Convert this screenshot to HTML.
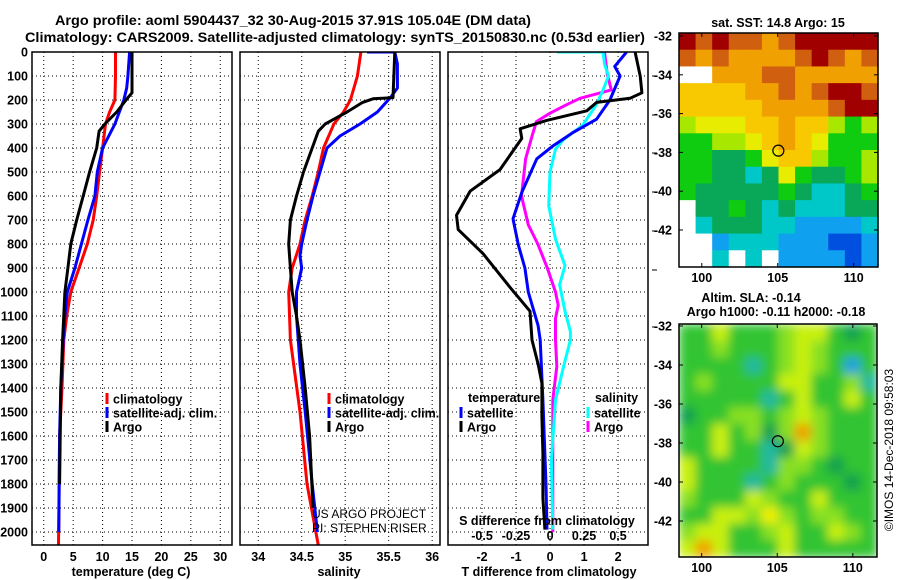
<!DOCTYPE html>
<html><head><meta charset="utf-8"><style>
html,body{margin:0;padding:0;background:#fff;}
svg{display:block;font-family:"Liberation Sans",sans-serif;}
.b{font-weight:bold;}
</style></head><body>
<svg id="chart" width="900" height="580" viewBox="0 0 900 580" xmlns="http://www.w3.org/2000/svg">
<defs>
<filter id="smooth" x="0" y="0" width="1" height="1"><feGaussianBlur stdDeviation="5" edgeMode="duplicate"/></filter>
<clipPath id="slaclip"><rect x="679" y="324" width="198" height="233"/></clipPath>
</defs>
<text x="55" y="25" class="b" font-size="13.5" textLength="476" lengthAdjust="spacingAndGlyphs">Argo profile: aoml 5904437_32 30-Aug-2015 37.91S 105.04E (DM data)</text>
<text x="25" y="42" class="b" font-size="13.5" textLength="620" lengthAdjust="spacingAndGlyphs">Climatology: CARS2009. Satellite-adjusted climatology: synTS_20150830.nc (0.53d earlier)</text>
<g id="layer"></g>
</svg>
<script>
// ---- depth axis ----
const depthTicks = [0,100,200,300,400,500,600,700,800,900,1000,1100,1200,1300,1400,1500,1600,1700,1800,1900,2000];
// ---- temperature panel ----
const tTicks = [0,5,10,15,20,25,30];
const tClimDepth = [0,100,200,250,300,400,500,600,700,800,900,1000,1100,1200,1400,1600,2055];
const tClim = [12.2,12.2,12.1,11.2,10.5,10.0,9.5,9.0,8.4,7.4,6.0,4.6,3.9,3.4,3.1,2.7,2.5];
const tSatDepth = [0,100,150,200,300,400,500,600,700,800,900,1000,1100,1200,1400,1600,2000];
const tSat = [14.6,14.3,14.1,13.6,12.1,10.0,9.1,8.7,7.5,6.4,5.3,4.0,3.6,3.3,2.9,2.7,2.55];
const tArgoDepth = [0,170,190,250,300,330,400,500,600,700,800,900,1000,1200,1400,1800];
const tArgo = [15,15,14.3,12.4,10.4,9.4,9.0,7.8,6.7,5.6,4.6,4.1,3.6,3.2,2.9,2.7];
// ---- salinity panel ----
const sTicks = [34,34.5,35,35.5,36];
const sTickLabels = ["34","34.5","35","35.5","36"];
const sClimDepth = [0,100,200,250,300,400,500,600,700,800,900,1000,1200,1500,1800,2055];
const sClim = [35.18,35.14,35.06,34.98,34.87,34.75,34.69,34.62,34.54,34.48,34.39,34.35,34.37,34.48,34.56,34.69];
const sSatDepth = [0,0,50,150,190,250,300,350,400,500,600,700,800,850,900,1000,1100,1300,1500,1800,2000];
const sSat = [35.25,35.57,35.6,35.6,35.52,35.37,35.17,34.94,34.79,34.71,34.63,34.56,34.5,34.48,34.5,34.44,34.44,34.48,34.54,34.62,34.68];
const sArgoDepth = [0,190,195,210,250,280,300,330,400,500,600,700,800,900,1000,1100,1200,1400,1600,1900];
const sArgo = [35.57,35.55,35.32,35.2,35.02,34.87,34.77,34.69,34.62,34.52,34.44,34.37,34.35,34.37,34.39,34.44,34.48,34.54,34.59,34.63];
// ---- difference panel ----
const dTTicks = [-2,-1,0,1,2];
const dSTicks = [-0.5,-0.25,0,0.25,0.5];
const dSTickLabels = ["-0.5","-0.25","0","0.25","0.5"];
const dTArgoDepth = [0,100,170,193,210,245,285,320,360,490,580,680,740,840,980,1080,1200,1300,1380,1520,1670,1860,1990];
const dTArgo = [2.5,2.65,2.7,2.35,1.37,1.08,-0.1,-0.88,-0.83,-1.47,-2.35,-2.75,-2.7,-1.97,-1.18,-0.59,-0.53,-0.35,-0.24,-0.24,-0.21,-0.21,-0.15];
const dTSatDepth = [0,60,100,200,280,335,390,445,585,695,805,900,1000,1140,1200,1450,1800,1990];
const dTSat = [2.25,1.9,2.06,1.76,1.37,0.68,0.1,-0.39,-0.83,-1.09,-0.93,-0.74,-0.64,-0.35,-0.29,-0.21,-0.12,-0.09];
const dSArgoDepth = [0,90,158,193,220,255,290,345,445,600,720,800,900,1000,1055,1110,1200,1310,1450,1800,2000];
const dSArgo = [0.40,0.42,0.45,0.22,0.12,0.0,-0.1,-0.13,-0.18,-0.21,-0.16,-0.09,-0.02,0.04,0.06,0.04,0.04,0.05,0.02,0.02,0.02];
const dSSatDepth = [0,0,50,100,158,220,305,365,405,500,640,780,890,970,1080,1165,1200,1310,1450,1700,1990];
const dSSat = [0.05,0.39,0.40,0.43,0.39,0.34,0.24,0.10,0.04,0.0,-0.01,0.04,0.11,0.07,0.11,0.15,0.15,0.10,0.04,0.01,0.02];
// ---- maps ----
const latTicks = [-32,-34,-36,-38,-40,-42];
const lonTicks = [100,105,110];
const argoLon = 105.04, argoLat = -37.91;
const sstColors = ["#ffffff","#a00000","#d06010","#f0a000","#f8c800","#e8ec00","#a8e800","#10cc10","#08a858","#00c8c8","#10a0f0","#0050e0","#0020a0"];
const sstGrid = [
[1,2,1,2,2,3,2,1,1,1,1,1],
[2,3,2,3,3,3,3,2,1,2,3,2],
[0,0,3,3,3,2,2,3,3,3,3,3],
[4,4,4,4,3,3,2,3,2,1,1,2],
[4,4,4,4,4,3,3,3,3,2,1,1],
[6,5,5,5,4,4,3,4,4,6,7,6],
[7,7,6,6,5,4,3,4,5,7,7,7],
[7,7,8,8,7,5,4,4,6,7,7,6],
[7,7,8,8,9,8,5,7,8,8,7,6],
[7,8,8,8,8,8,7,8,9,9,8,7],
[0,8,8,7,8,9,8,9,9,9,8,8],
[0,9,8,8,8,9,9,10,10,10,10,9],
[0,0,10,9,9,9,10,10,10,11,11,10],
[0,0,9,0,9,0,10,10,10,10,11,10]];
const slaColors = ["#10a050","#30c430","#88e020","#c8f010","#f0f000","#f0a000","#20b8a0","#20a0e0"];
const slaGrid = [
[1,1,3,1,1,1,2,3,3,1,0,1],
[1,1,2,1,1,1,2,3,2,1,1,1],
[1,1,1,1,6,1,2,3,2,1,7,1],
[1,2,1,1,1,1,3,3,1,1,2,6],
[1,1,1,1,1,6,1,3,1,1,3,1],
[0,1,1,2,2,1,2,3,2,1,1,1],
[1,1,3,1,2,0,2,5,2,1,1,1],
[1,1,3,1,1,6,0,3,2,1,1,1],
[3,1,1,1,1,6,2,2,1,0,1,1],
[3,1,1,1,6,1,2,1,1,1,0,1],
[2,1,1,1,3,2,1,1,3,1,1,1],
[1,1,3,3,2,4,2,1,2,2,1,1],
[2,3,3,1,1,2,3,1,1,3,2,1],
[3,5,3,1,1,1,3,1,1,1,1,1]];

const NS="http://www.w3.org/2000/svg";
const layer=document.getElementById('layer');
function mk(tag,attrs,parent){const e=document.createElementNS(NS,tag);for(const k in attrs)e.setAttribute(k,attrs[k]);(parent||layer).appendChild(e);return e;}
function txt(s,x,y,size,anchor,bold,parent){const e=mk('text',{x:x,y:y,'font-size':size,'text-anchor':anchor||'start'},parent);if(bold)e.setAttribute('font-weight','bold');e.textContent=s;return e;}

const TOP=52,BOT=545;
function yD(d){return TOP+d*0.24;}
const panels=[
 {x0:32,x1:232,v0:-2,v1:32},
 {x0:240,x1:440,v0:33.79,v1:36.09},
 {x0:448,x1:648,v0:-3,v1:2.88}
];
function sx(p,v){return p.x0+(v-p.v0)/(p.v1-p.v0)*(p.x1-p.x0);}
function sxS(p,v){return sx(p,v*4);}

depthTicks.forEach(d=>{
  const t=txt(String(d),28,yD(d)+4.5,12.5,'end',true);
  
  
});

panels.forEach((p,i)=>{
  const g=mk('g',{});
  
  
  const cp=mk('clipPath',{id:'clip'+i},g);
  mk('rect',{x:p.x0,y:TOP,width:p.x1-p.x0,height:BOT-TOP},cp);
  depthTicks.forEach(d=>{
    const l=mk('line',{x1:p.x0,x2:p.x1,y1:yD(d),y2:yD(d),stroke:'#000','stroke-width':1,'stroke-dasharray':'1,3'},g);
    
    
  });
  p.g=g;
});
function vgrid(p,vals,f){vals.forEach(v=>{const x=f(p,v);const l=mk('line',{x1:x,x2:x,y1:TOP,y2:BOT,stroke:'#000','stroke-width':1,'stroke-dasharray':'1,3'},p.g);
  
  });}
vgrid(panels[0],tTicks,sx);vgrid(panels[1],sTicks,sx);vgrid(panels[2],dTTicks,sx);

function series(p,depths,vals,color,name,f,w){
  let dstr='';
  depths.forEach((d,k)=>{dstr+=(k?'L':'M')+f(p,vals[k]).toFixed(1)+','+yD(d).toFixed(1);});
  const e=mk('path',{d:dstr,fill:'none',stroke:color,'stroke-width':w||3,'clip-path':'url(#clip'+panels.indexOf(p)+')','stroke-linejoin':'round'},p.g);
  
  
}
series(panels[0],tClimDepth,tClim,'#ff0000','temp-climatology-line',sx);
series(panels[0],tSatDepth,tSat,'#0000ff','temp-satellite-line',sx);
series(panels[0],tArgoDepth,tArgo,'#000000','temp-argo-line',sx);
series(panels[1],sClimDepth,sClim,'#ff0000','sal-climatology-line',sx);
series(panels[1],sSatDepth,sSat,'#0000ff','sal-satellite-line',sx);
series(panels[1],sArgoDepth,sArgo,'#000000','sal-argo-line',sx);
series(panels[2],dSArgoDepth,dSArgo,'#ff00ff','sdiff-argo-line',sxS);
series(panels[2],dSSatDepth,dSSat,'#00ffff','sdiff-satellite-line',sxS);
series(panels[2],dTSatDepth,dTSat,'#0000ff','tdiff-satellite-line',sx);
series(panels[2],dTArgoDepth,dTArgo,'#000000','tdiff-argo-line',sx);

panels.forEach(p=>{const r=mk('rect',{x:p.x0,y:TOP,width:p.x1-p.x0,height:BOT-TOP,fill:'none',stroke:'#000','stroke-width':1.5},p.g);
  
  });

function xlabels(p,vals,labels,f,y){vals.forEach((v,k)=>{const t=txt(labels?labels[k]:String(v),f(p,v),y,12.5,'middle',true);
  
  });}
xlabels(panels[0],tTicks,null,sx,561);
xlabels(panels[1],sTicks,sTickLabels,sx,561);
xlabels(panels[2],dTTicks,null,sx,561);
xlabels(panels[2],dSTicks,dSTickLabels,sxS,540);
function title(s,x,y,name){const t=txt(s,x,y,12.5,'middle',true);}
title('temperature (deg C)',131,576,'temp-axis-title');
title('salinity',339,576,'sal-axis-title');
title('T difference from climatology',549,576,'tdiff-axis-title');
title('S difference from climatology',547,525,'sdiff-axis-title');

function leg(mx,y,color,label,name){const r=mk('rect',{x:mx-1.5,y:y-6,width:3,height:11,fill:color});
  
  
  const t=txt(label,mx+6,y+4.5,12.5,'start',true);
  
  }
leg(107,399,'#ff0000','climatology','legend-climatology');
leg(107,413,'#0000ff','satellite-adj. clim.','legend-satellite-adj');
leg(107,427,'#000000','Argo','legend-argo');
leg(329,399,'#ff0000','climatology','legend-sal-climatology');
leg(329,413,'#0000ff','satellite-adj. clim.','legend-sal-satellite-adj');
leg(329,427,'#000000','Argo','legend-sal-argo');
const th=txt('temperature',468,402,12.5,'start',true);
const sh=txt('salinity',595,402,12.5,'start',true);
leg(461,413,'#0000ff','satellite','legend-tdiff-satellite');
leg(461,427,'#000000','Argo','legend-tdiff-argo');
leg(588,413,'#00ffff','satellite','legend-sdiff-satellite');
leg(588,427,'#ff00ff','Argo','legend-sdiff-argo');
const c1=txt('US ARGO PROJECT',312,518,12,'start',false);
const c2=txt('PI: STEPHEN RISER',312,532,12,'start',false);

[76,115,153,192,231,270,327].forEach(y=>{mk('line',{x1:652,x2:657,y1:y,y2:y,stroke:'#000','stroke-width':1});});

function drawMap(m){
  const g=mk('g',{});
  
  
  const rows=m.grid.length,cols=m.grid[0].length;
  const cw=(m.x1-m.x0)/cols,ch=(m.y1-m.y0)/rows;
  let cellParent=g;
  if(m.smooth){
    const outer=mk('g',{'clip-path':'url(#slaclip)'},g);
    cellParent=mk('g',{filter:'url(#smooth)'},outer);
  }
  m.grid.forEach((row,r)=>row.forEach((v,c)=>{
    const e=mk('rect',{x:(m.x0+c*cw).toFixed(2),y:(m.y0+r*ch).toFixed(2),width:(cw+0.6).toFixed(2),height:(ch+0.6).toFixed(2),fill:m.colors[v]},cellParent);
    
    
  }));
  const lx=lon=>m.x0+(lon-98.5)/(111.6-98.5)*(m.x1-m.x0);
  const ly=lat=>m.yLat32+(-32-lat)*m.ppd;
  const circ=mk('circle',{cx:lx(argoLon),cy:ly(argoLat),r:5.5,fill:'none',stroke:'#000','stroke-width':1.2},g);
  
  
  const fr=mk('rect',{x:m.x0,y:m.y0,width:m.x1-m.x0,height:m.y1-m.y0,fill:'none',stroke:'#000','stroke-width':1.5},g);
  
  
  latTicks.forEach(lat=>{const y=ly(lat);
    mk('line',{x1:m.x0,x2:m.x0+4,y1:y,y2:y,stroke:'#000'},g);
    mk('line',{x1:m.x1-4,x2:m.x1,y1:y,y2:y,stroke:'#000'},g);
    const t=txt(String(lat),672,y+4.5,12.5,'end',true,g);
    
    });
  lonTicks.forEach(lon=>{const x=lx(lon);
    mk('line',{x1:x,x2:x,y1:m.y0,y2:m.y0+4,stroke:'#000'},g);
    mk('line',{x1:x,x2:x,y1:m.y1-4,y2:m.y1,stroke:'#000'},g);
    const t=txt(String(lon),x,m.y1+15,12.5,'middle',true,g);
    
    });
}
drawMap({name:'sst-map',x0:679,x1:878,y0:33,y1:267,yLat32:36,ppd:19.4,grid:sstGrid,colors:sstColors});
drawMap({name:'sla-map',x0:679,x1:877,y0:324,y1:557,yLat32:326,ppd:19.5,grid:slaGrid,colors:slaColors,smooth:true});
const m1=txt('sat. SST: 14.8 Argo: 15',778,27,12.5,'middle',true);
const m2=txt('Altim. SLA: -0.14',751,302,12.5,'middle',true);
const m3=txt('Argo h1000: -0.11 h2000: -0.18',776,316,12.5,'middle',true);
const cr=txt('©IMOS 14-Dec-2018 09:58:03',0,0,12,'middle',false);
cr.setAttribute('transform','translate(893,450) rotate(-90)');


</script>
</body></html>
